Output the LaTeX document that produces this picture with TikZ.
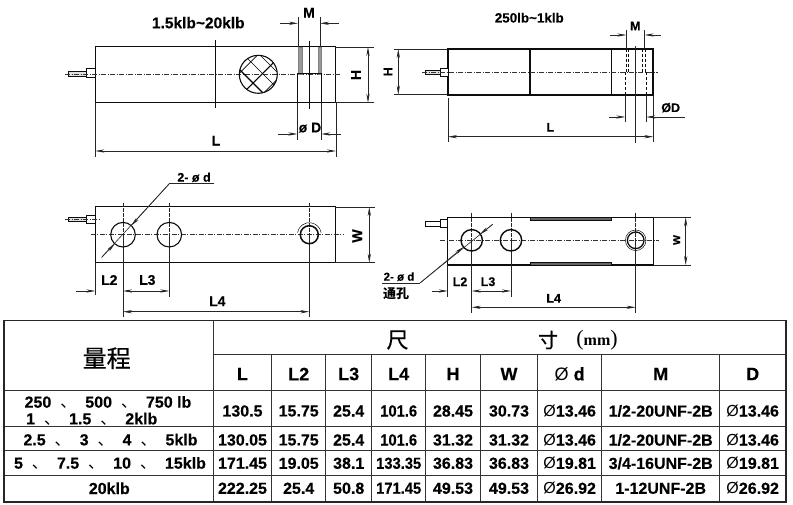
\documentclass[tikz,border=0pt]{standalone}
\usepackage{fontspec}
\setmainfont{Liberation Sans}[BoldFeatures={FakeBold=0.35}]
\newfontfamily\cjk{Noto Sans CJK SC}
\newfontfamily\cjkmid{Noto Sans CJK SC}[FakeBold=0.4]
\newfontfamily\serifhead{Liberation Serif}
\usetikzlibrary{arrows.meta}
\newcommand{\dun}{\hspace{9pt}{\cjk\mdseries 、}\hspace{9pt}}
\begin{document}
\begin{tikzpicture}[
        x=1pt, y=-1pt,
        ink/.style={draw=black!95},
        body/.style={ink, line width=1pt},
        bodyheavy/.style={ink, line width=1.7pt},
        hole/.style={ink, line width=1.1pt},
        extline/.style={draw=black!85, line width=0.6pt},
        axisline/.style={draw=black!80, line width=0.5pt, dash pattern=on 5pt off 1.5pt on 1pt off 1.5pt},
        dimline/.style={draw=black!85, line width=0.6pt, -{Stealth[length=9pt,width=3.2pt]}},
        dimboth/.style={dimline, {Stealth[length=9pt,width=3.2pt]}-{Stealth[length=9pt,width=3.2pt]}},
        cable/.style={ink, line width=0.9pt, fill=black!12},
        lbl/.style={font=\fontsize{14}{14}\selectfont\bfseries, inner sep=0pt},
        lblsmall/.style={font=\fontsize{12.5}{13}\selectfont\bfseries, inner sep=0pt},
        cell/.style={font=\fontsize{16}{16}\selectfont\bfseries, inner sep=0pt},
        cellhead/.style={font=\fontsize{18}{18}\selectfont\bfseries, inner sep=0pt},
        rule/.style={draw=black!80, line width=0.8pt}
    ]
    \useasboundingbox (0,0) rectangle (793,505);

    % Side view, left
    \node[lbl, font=\fontsize{15.5}{16}\selectfont\bfseries] (title-a) at (198.3,22.7) {1.5klb\textasciitilde 20klb};
    \draw[body] (95.3,47) rectangle (335,102.7);
    \draw[body, fill=white] (86,69) rectangle (95.3,78);
    \draw[cable] (68.7,71) rectangle (86,76.7);
    \draw[axisline] (65,74) -- (341,74);
    \draw[body] (215.3,40) -- (215.3,108);
    \draw[draw=black!50, fill=black!40, line width=0.3pt] (298.3,47) rectangle (301.7,74);
    \draw[draw=black!50, fill=black!40, line width=0.3pt] (317.7,47) rectangle (321,74);
    \draw[body] (297.3,109) -- (297.3,74) -- (321.3,74) -- (321.3,109);
    \draw[body] (309.3,40.7) -- (309.3,109);
    % Load cell window
    \begin{scope}
        \clip (258.3,74.3) circle (19);
        \foreach \off/\wd in {-20/0.6,3.5/1.1,24/0.6} {
            \draw[line width=\wd pt] (258.3+\off-25,74.3+25) -- (258.3+\off+25,74.3-25);
        }
        \foreach \off/\wd in {-14/1.1,5/0.6,21/0.6} {
            \draw[line width=\wd pt] (258.3+\off-25,74.3-25) -- (258.3+\off+25,74.3+25);
        }
    \end{scope}
    \draw[hole] (258.3,74.3) circle (19);
    % Dimensions, left
    \draw[extline] (298,17) -- (298,47) (320,17) -- (320,47);
    \draw[dimline] (280,23.3) -- (298,23.3);
    \draw[dimline] (339,23.3) -- (320,23.3);
    \node[lbl] (label-m-a) at (309,12.7) {M};
    \draw[extline] (297.3,102.7) -- (297.3,140) (321.3,102.7) -- (321.3,140);
    \draw[dimline] (278,134) -- (297.3,134);
    \draw[dimline] (340.7,134) -- (321.3,134);
    \node[lbl] (label-d-a) at (310,127.7) {ø D};
    \draw[extline] (95.3,103) -- (95.3,157) (336,103) -- (336,157);
    \draw[dimboth] (95.3,151) -- (336,151);
    \node[lbl] (label-l-a) at (216,140.7) {L};
    \draw[extline] (335,47) -- (374,47) (335,102.7) -- (374,102.7);
    \draw[dimboth] (368,47) -- (368,102.7);
    \node[lbl, rotate=90] (label-h-a) at (356,75) {H};

    % Side view, right
    \node[lblsmall, font=\fontsize{13.4}{14}\selectfont\bfseries] (title-b) at (529.3,17.7) {250lb\textasciitilde 1klb};
    \draw[bodyheavy] (448,48.7) rectangle (653.3,94.7);
    \draw[bodyheavy, line width=1.2pt] (530,48.7) -- (530,94.7) (611.3,48.7) -- (611.3,94.7);
    \draw[ink, line width=0.6pt, fill=white] (440.3,68.3) rectangle (448,76);
    \draw[cable, line width=0.7pt] (425,70.7) rectangle (440.3,74.7);
    \draw[axisline] (422.3,72.3) -- (658,72.3);
    \foreach \xa in {626.7,628.7,642.7,645} {
        \draw[ink, line width=0.6pt, densely dashed] (\xa,48.7) -- (\xa,72.3);
    }
    \foreach \xa in {625.3,646} {
        \draw[ink, line width=0.6pt, densely dashed] (\xa,72.3) -- (\xa,94.7);
    }
    \draw[extline] (635.7,46) -- (635.7,143);
    \draw[extline] (626.3,30) -- (626.3,48.7) (644.7,30) -- (644.7,48.7);
    \draw[dimline] (610,35) -- (626.3,35);
    \draw[dimline] (660.7,35) -- (644.7,35);
    \node[lblsmall] (label-m-b) at (635.3,26) {M};
    \draw[extline] (625.3,94.7) -- (625.3,122) (646.3,94.7) -- (646.3,122);
    \draw[dimline] (609.3,117) -- (625.3,117);
    \draw[dimline] (684.7,117) -- (646.3,117);
    \node[lblsmall] (label-d-b) at (670.7,107.7) {ØD};
    \draw[extline] (448,98) -- (448,141.7) (653.3,95) -- (653.3,141.7);
    \draw[dimboth] (448,136.7) -- (653.3,136.7);
    \node[lblsmall] (label-l-b) at (550.3,127.3) {L};
    \draw[extline] (447,49) -- (394,49) (447,94.7) -- (394,94.7);
    \draw[dimboth] (398.3,49) -- (398.3,94.7);
    \node[lbl, font=\fontsize{12.5}{13}\selectfont\bfseries, rotate=90] (label-h-b) at (388,71.7) {H};

    % Top view, left
    \draw[body] (95.3,207) rectangle (335,262.7);
    \draw[body, fill=white, line width=0.7pt] (86,215) rectangle (95.3,223.3);
    \draw[cable, line width=0.8pt] (68.7,217.3) rectangle (86,221.7);
    \draw[axisline] (65,219.3) -- (100,219.3);
    \draw[axisline] (90.7,234.7) -- (343,234.7);
    \foreach \xh/\yend in {123/316.7,169.3/296.7,309.3/316.7} {
        \draw[extline, line width=0.8pt, dash pattern=on 4pt off 1pt] (\xh,203.3) -- (\xh,234.7);
        \draw[extline, line width=0.8pt] (\xh,234.7) -- (\xh,\yend);
    }
    \draw[hole] (123,234.7) circle (12.3);
    \draw[hole] (169.3,234.7) circle (12.3);
    \draw[ink, line width=1.5pt] (309.3,234.7) circle (9);
    \draw[ink, line width=0.5pt] (309.3,234.7) ++(190:12) arc (190:350:12);
    \draw[extline] (95.3,262.7) -- (95.3,295);
    \draw[dimline] (76,291) -- (95.3,291);
    \draw[dimboth] (123,291) -- (169.3,291);
    \draw[dimboth] (123,311.7) -- (309.3,311.7);
    \node[lbl] (label-l2-a) at (109.3,280) {L2};
    \node[lbl] (label-l3-a) at (147.3,280) {L3};
    \node[lbl] (label-l4-a) at (217.3,301.3) {L4};
    \draw[extline] (335,207) -- (375,207) (335,262.7) -- (375,262.7);
    \draw[dimboth] (369.3,207) -- (369.3,262.7);
    \node[lbl, rotate=90] (label-w-a) at (357.3,236) {W};
    % Hole callout
    \node[lbl, font=\fontsize{12.5}{13}\selectfont\bfseries] (label-hole-a) at (194,177.3) {2- ø d};
    \coordinate (lead-a) at (169.3,183.7);
    \coordinate (lead-a-end) at (101.7,257.3);
    \draw[extline] (lead-a) -- (214,183.7);
    \draw[extline] (lead-a) -- (lead-a-end);
    \draw[dimline] (lead-a) -- (131.3,225.6);
    \draw[dimline] (lead-a-end) -- (114.7,243.8);

    % Top view, right
    \draw[bodyheavy, line width=1.3pt] (447.7,217.3) rectangle (653.3,265);
    \draw[ink, fill=black!60, line width=0.5pt] (530,217.3) rectangle (611.7,220.7);
    \draw[ink, fill=black!60, line width=0.5pt] (530,262) rectangle (611.7,265);
    \draw[ink, line width=0.6pt, fill=white] (440.7,219.3) rectangle (447.7,227.7);
    \draw[ink, line width=0.6pt, fill=white] (425.3,221.3) rectangle (440.7,226);
    \draw[axisline] (440,240.3) -- (659.3,240.3);
    \foreach \xh/\yend in {471.7/312.7,511/296.7,635.7/312.7} {
        \draw[extline, line width=0.7pt, dash pattern=on 4pt off 1pt] (\xh,212.7) -- (\xh,240.3);
        \draw[extline, line width=0.7pt] (\xh,240.3) -- (\xh,\yend);
    }
    \draw[ink, line width=1.4pt] (471.7,240.3) circle (10.7);
    \draw[ink, line width=1.4pt] (511,240.3) circle (10.7);
    \draw[ink, line width=1.3pt] (635.7,240.3) circle (8.3);
    \draw[ink, line width=0.5pt] (635.7,240.3) circle (10.3);
    \draw[extline] (447.7,265) -- (447.7,296.7);
    \draw[dimline] (431.7,291) -- (447.7,291);
    \draw[dimboth] (471.7,291) -- (511,291);
    \draw[dimboth] (471.7,307.3) -- (635.7,307.3);
    \node[lblsmall] (label-l2-b) at (460,281.7) {L2};
    \node[lblsmall] (label-l3-b) at (488,281.7) {L3};
    \node[lblsmall] (label-l4-b) at (553.7,298.3) {L4};
    \draw[extline] (653.3,217.3) -- (690.7,217.3) (653.3,265) -- (690.7,265);
    \draw[dimboth] (685.7,217.3) -- (685.7,265);
    \node[lblsmall, rotate=90] (label-w-b) at (676.7,240) {w};
    % Hole callout
    \node[lbl, font=\fontsize{11.5}{12}\selectfont\bfseries] (label-hole-b) at (399,276.7) {2- ø d};
    \node[lbl, font=\fontsize{13}{14}\selectfont\cjk\bfseries] (label-thru) at (396,294) {通孔};
    \coordinate (lead-b) at (420,283);
    \coordinate (lead-b-end) at (492.7,224.3);
    \draw[extline] (382.3,283) -- (lead-b);
    \draw[extline] (lead-b) -- (lead-b-end);
    \draw[dimline] (lead-b) -- (463.4,247);
    \draw[dimline] (lead-b-end) -- (480,234.3);

    % Table grid
    \draw[rule] (213.3,354.7) -- (785.7,354.7);
    \draw[rule] (4,390.3) -- (785.7,390.3);
    \foreach \yr in {426.7,450.3,475} {
        \draw[rule] (4,\yr) -- (785.7,\yr);
    }
    \draw[rule] (213.3,320.3) -- (213.3,501.7);
    \foreach \xr in {271.7,325.7,371.7,425.7,480.3,537.7,601.7,719.7} {
        \draw[rule] (\xr,354.7) -- (\xr,501.7);
    }
    \draw[draw=black!85, line width=1.6pt] (4,320.3) rectangle (785.7,501.7);

    % Table head
    \node[font=\fontsize{24}{24}\selectfont\cjkmid, inner sep=0pt] (head-range) at (106.7,358.3) {量程};
    \node[font=\fontsize{22}{22}\selectfont\cjkmid, inner sep=0pt] (head-chi) at (397.5,340) {尺};
    \node[font=\fontsize{20}{20}\selectfont\cjkmid, inner sep=0pt] (head-cun) at (548,340) {寸};
    \node[font=\fontsize{22}{22}\selectfont\serifhead, inner sep=0pt] (head-unit) at (597,340) {(\fontsize{16}{16}\selectfont\bfseries mm\fontsize{22}{22}\selectfont\mdseries)};
    \foreach \xc/\hd in {242.5/L,298.7/L2,348.7/L3,398.7/L4,453/H,509/W,569.7/{{\mdseries Ø} d},660.7/M,752.7/D} {
        \node[cellhead] (head-\xc) at (\xc,374) {\hd};
    }

    % Table rows
    \node[cell] (range-1a) at (108,402.3) {250\dun 500\dun 750 lb};
    \node[cell, anchor=west] (range-1b) at (26,419) {1\dun 1.5\dun 2klb};
    \node[cell] (range-2) at (110.5,440) {2.5\dun 3\dun 4\dun 5klb};
    \node[cell] (range-3) at (110,463.3) {5\dun 7.5\dun 10\dun 15klb};
    \node[cell] (range-4) at (109.3,488.3) {20klb};
    \foreach \yc/\vL/\vLb/\vLc/\vLd/\vH/\vW/\vdia/\vM in {
        411/130.5/15.75/25.4/101.6/28.45/30.73/13.46/1\slash 2-20UNF-2B,
        440/130.05/15.75/25.4/101.6/31.32/31.32/13.46/1\slash 2-20UNF-2B,
        463.3/171.45/19.05/38.1/133.35/36.83/36.83/19.81/3\slash 4-16UNF-2B,
        488.3/222.25/25.4/50.8/171.45/49.53/49.53/26.92/1-12UNF-2B
    } {
        \node[cell] (val-L-\yc) at (242.5,\yc) {\vL};
        \node[cell] (val-Lb-\yc) at (298.7,\yc) {\vLb};
        \node[cell] (val-Lc-\yc) at (348.7,\yc) {\vLc};
        \node[cell] (val-Ld-\yc) at (398.7,\yc) {\scalebox{0.92}[1]{\vLd}};
        \node[cell] (val-H-\yc) at (453,\yc) {\vH};
        \node[cell] (val-W-\yc) at (509,\yc) {\vW};
        \node[cell] (val-d-\yc) at (569.7,\yc) {{\mdseries Ø}\vdia};
        \node[cell] (val-M-\yc) at (660.7,\yc) {\vM};
        \node[cell] (val-D-\yc) at (752.7,\yc) {{\mdseries Ø}\vdia};
    }
\end{tikzpicture}
\end{document}
